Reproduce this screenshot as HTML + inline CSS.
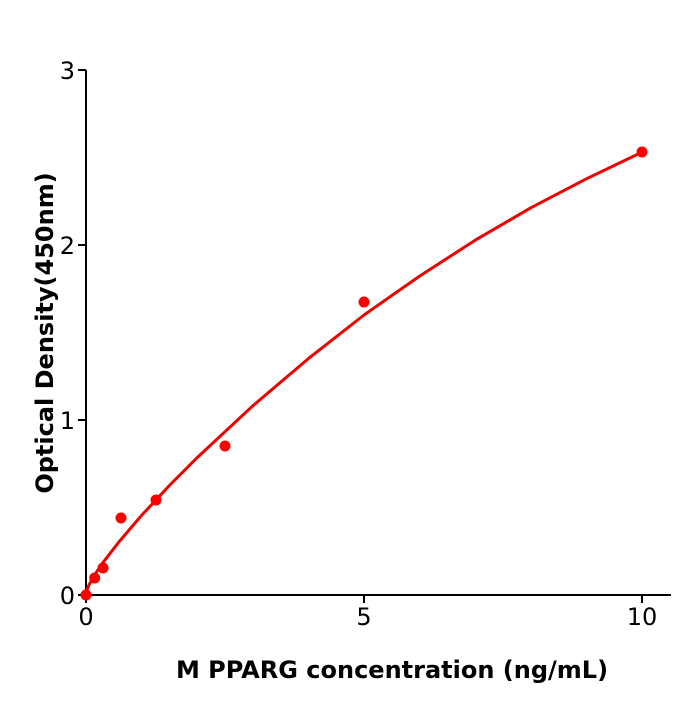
<!DOCTYPE html><html><head><style>body{margin:0;background:#fff}</style></head><body>
<svg width="700" height="700" xmlns="http://www.w3.org/2000/svg" font-family="DejaVu Sans, Liberation Sans, sans-serif">
<rect width="700" height="700" fill="#fff"/>
<g stroke="#000" stroke-width="2" fill="none">
<line x1="86" y1="70" x2="86" y2="596"/>
<line x1="85" y1="595" x2="671" y2="595"/>
<line x1="78" y1="70" x2="86" y2="70"/><line x1="78" y1="245" x2="86" y2="245"/><line x1="78" y1="420" x2="86" y2="420"/><line x1="78" y1="595" x2="86" y2="595"/>
<line x1="86" y1="595" x2="86" y2="603"/><line x1="364" y1="595" x2="364" y2="603"/><line x1="642" y1="595" x2="642" y2="603"/>
</g>
<g font-size="24" text-anchor="end"><text x="75" y="79">3</text><text x="75" y="254">2</text><text x="75" y="429">1</text><text x="75" y="604">0</text></g>
<g font-size="24" text-anchor="middle"><text x="86" y="625">0</text><text x="364" y="625">5</text><text x="642" y="625">10</text></g>
<text x="392" y="678" font-size="24" font-weight="bold" text-anchor="middle">M  PPARG concentration (ng/mL)</text>
<text transform="translate(53,333) rotate(-90)" font-size="24" font-weight="bold" text-anchor="middle">Optical Density(450nm)</text>
<polyline points="86,595 86.6,591.3 88.8,585.4 94.3,575.3 102.7,562.9 119.4,541.3 141.6,515.4 169.4,485.5 197.2,457.6 252.8,405.8 308.4,358.6 364,315 419.6,276.1 475.2,240.2 530.8,207.8 586.4,178.8 642,152.2" stroke="#e00" stroke-width="3" fill="none" stroke-linejoin="round"/>
<g fill="#f00"><circle cx="86" cy="595" r="5.5"/><circle cx="94.7" cy="578" r="5.5"/><circle cx="103" cy="568" r="5.5"/><circle cx="121" cy="518" r="5.5"/><circle cx="156" cy="500" r="5.5"/><circle cx="225" cy="446" r="5.5"/><circle cx="364" cy="302" r="5.5"/><circle cx="642" cy="152" r="5.5"/></g>
</svg></body></html>
